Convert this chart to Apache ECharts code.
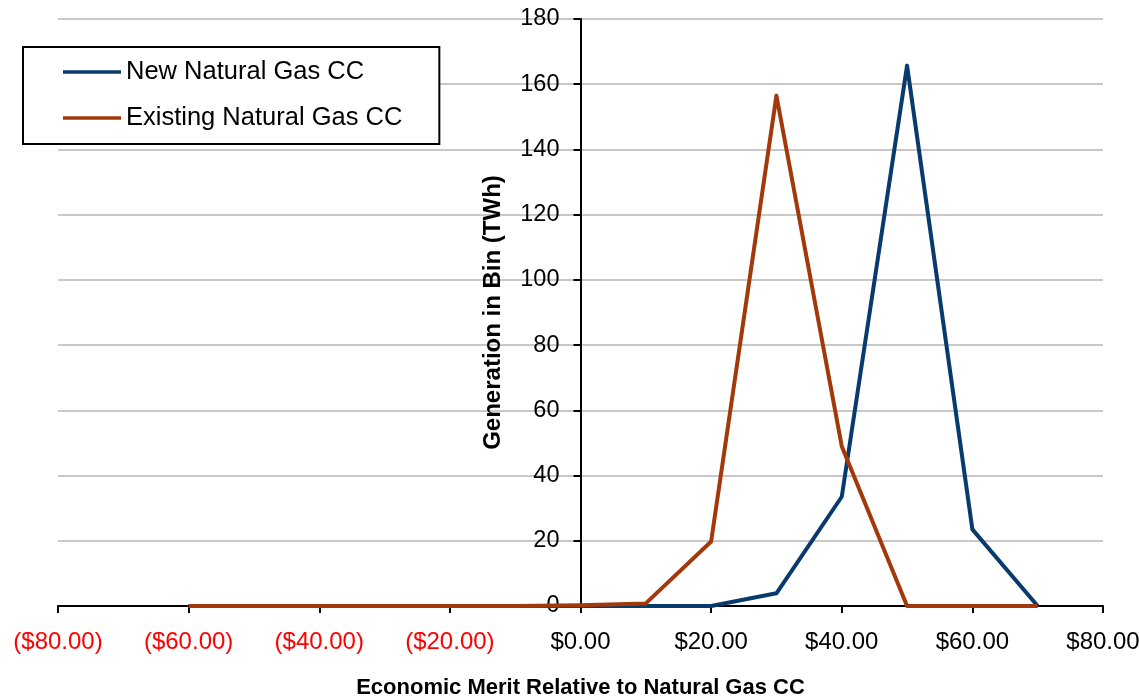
<!DOCTYPE html>
<html>
<head>
<meta charset="utf-8">
<script src="https://cdn.jsdelivr.net/npm/echarts@6/dist/echarts.min.js"></script>
<style>
  html, body { margin: 0; padding: 0; background: #ffffff; }
  #chart { width: 1140px; height: 696px; }
</style>
</head>
<body>
<div id="chart"></div>
<script>
// Bin midpoints ($/MWh relative to natural gas CC)
const binValues = [-60, -50, -40, -30, -20, -10, 0, 10, 20, 30, 40, 50, 60, 70];
// Generation in each bin (TWh)
const newGasCC = [0, 0, 0, 0, 0, 0, 0, 0, 0, 3.9, 33.5, 165.7, 23.5, 0];
const existingGasCC = [0, 0, 0, 0, 0, 0, 0.2, 0.8, 19.8, 156.5, 49, 0, 0, 0];

const seriesNames = ['New Natural Gas CC', 'Existing Natural Gas CC'];
const seriesColors = ['#083b6d', '#a3390b'];

const X_MIN = -80, X_MAX = 80;
const FONT = '"Liberation Sans", Arial, sans-serif';

const GRID = { left: 58, right: 37, top: 19, bottom: 90 };
const CHART_W = 1140;

function pairs(values) {
  return binValues.map((x, i) => [x, values[i]]);
}

function money(v) {
  const s = '$' + Math.abs(v).toFixed(2);
  return v < 0 ? '(' + s + ')' : s;
}

// The value axis sits at x = 0, inside the plot
const plotWidth = CHART_W - GRID.left - GRID.right;
const yAxisShift = (0 - X_MIN) / (X_MAX - X_MIN) * plotWidth;

const chart = echarts.init(document.getElementById('chart'), null, { renderer: 'canvas' });

chart.setOption({
  backgroundColor: '#ffffff',
  animation: false,
  grid: Object.assign({ containLabel: false, outerBoundsMode: 'none' }, GRID),
  legend: {
    orient: 'vertical',
    left: 23,
    top: 47,
    padding: [12, 37, 13, 40],
    itemGap: 20,
    itemWidth: 58,
    itemHeight: 3.5,
    icon: 'rect',
    borderColor: '#000000',
    borderWidth: 2,
    backgroundColor: '#ffffff',
    textStyle: { fontFamily: FONT, fontSize: 25.5, color: '#000000' },
    data: seriesNames
  },
  xAxis: {
    type: 'value',
    min: X_MIN,
    max: X_MAX,
    interval: 20,
    name: 'Economic Merit Relative to Natural Gas CC',
    nameLocation: 'middle',
    nameGap: 71,
    nameTextStyle: { fontFamily: FONT, fontSize: 22, fontWeight: 'bold', color: '#000000' },
    axisLine: { onZero: false, lineStyle: { color: '#000000', width: 2 } },
    axisTick: { show: true, length: 7, lineStyle: { color: '#000000', width: 2 } },
    axisLabel: {
      margin: 24,
      fontFamily: FONT,
      fontSize: 24,
      showMinLabel: true,
      showMaxLabel: true,
      formatter: money,
      color: (v) => (Number(v) < 0 ? '#ff0000' : '#000000')
    },
    splitLine: { show: false }
  },
  yAxis: {
    type: 'value',
    position: 'left',
    offset: -yAxisShift,
    min: 0,
    max: 180,
    interval: 20,
    name: 'Generation in Bin (TWh)',
    nameLocation: 'middle',
    nameGap: 75,
    nameTextStyle: { fontFamily: FONT, fontSize: 24, fontWeight: 'bold', color: '#000000' },
    axisLine: { show: true, onZero: false, lineStyle: { color: '#000000', width: 2 } },
    axisTick: { show: true, length: 7, lineStyle: { color: '#000000', width: 2 } },
    axisLabel: { margin: 21, fontFamily: FONT, fontSize: 23.5, color: '#000000' },
    splitLine: { show: true, lineStyle: { color: '#c8c8c8', width: 2 } }
  },
  series: [
    {
      name: seriesNames[0],
      type: 'line',
      data: pairs(newGasCC),
      symbol: 'none',
      color: seriesColors[0],
      lineStyle: { width: 4, color: seriesColors[0], join: 'round' },
      z: 3
    },
    {
      name: seriesNames[1],
      type: 'line',
      data: pairs(existingGasCC),
      symbol: 'none',
      color: seriesColors[1],
      lineStyle: { width: 4, color: seriesColors[1], join: 'round' },
      z: 4
    }
  ]
});
</script>
</body>
</html>
